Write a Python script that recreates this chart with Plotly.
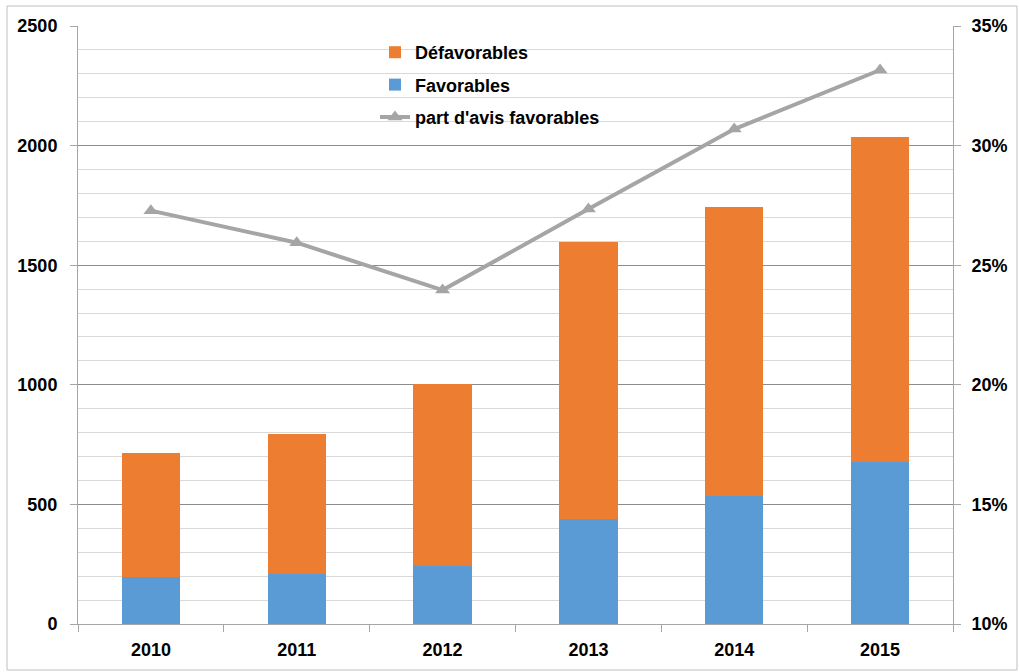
import plotly.graph_objects as go

years = ["2010", "2011", "2012", "2013", "2014", "2015"]
favorables = [198, 209, 244, 437, 536, 676]
defavorables = [517, 585, 759, 1158, 1207, 1360]
part_favorables = [0.2728, 0.2594, 0.2396, 0.2735, 0.3069, 0.3316]

left_ticks = [0, 500, 1000, 1500, 2000, 2500]
right_ticks = [0.10, 0.15, 0.20, 0.25, 0.30, 0.35]
right_labels = ["10%", "15%", "20%", "25%", "30%", "35%"]

W, H = 1019, 672
L, R, T, B = 78, 66, 26, 48
pw, ph = W - L - R, H - T - B

FAM = "Liberation Sans, Arial, sans-serif"

fig = go.Figure()
fig.add_trace(go.Bar(x=years, y=favorables, name="Favorables", marker_color="#5B9BD5",
                     marker_line_width=0, legendrank=2, legendgroup="b"))
fig.add_trace(go.Bar(x=years, y=defavorables, name="Défavorables", marker_color="#ED7D31",
                     marker_line_width=0, legendrank=1, legendgroup="a"))
fig.add_trace(go.Scatter(x=years, y=part_favorables, name="part d'avis favorables", yaxis="y2",
                         mode="lines+markers", line=dict(color="#A5A5A5", width=4),
                         marker=dict(symbol="triangle-up", size=13, color="#A5A5A5"),
                         legendrank=3, legendgroup="c"))

fig.update_layout(
    width=W, height=H,
    margin=dict(l=L, r=R, t=T, b=B, autoexpand=False),
    paper_bgcolor="white", plot_bgcolor="white",
    barmode="stack", bargap=0.6,
    font=dict(family=FAM, size=18, color="black"),
    showlegend=True,
    legend=dict(x=(375 - L) / pw, y=1 - (34 - T) / ph, xanchor="left", yanchor="top",
                bgcolor="rgba(0,0,0,0)", traceorder="grouped", tracegroupgap=6,
                font=dict(family=FAM, size=18, color="black", weight="bold"),
                itemwidth=30),
    xaxis=dict(type="category", showgrid=False, showline=True, linecolor="#A6A6A6", linewidth=1,
               ticks="outside", tickson="boundaries", ticklen=7, tickcolor="#A6A6A6",
               tickfont=dict(family=FAM, size=18, weight="bold"),
               ticklabelstandoff=9, zeroline=False, automargin=False),
    yaxis=dict(range=[0, 2500], tickvals=left_ticks, ticktext=[str(v) for v in left_ticks],
               showline=True, linecolor="#A6A6A6", linewidth=1,
               showgrid=True, gridcolor="#8C8C8C", gridwidth=1,
               minor=dict(dtick=100, showgrid=True, gridcolor="#D9D9D9", gridwidth=1),
               ticks="outside", ticklen=7, tickcolor="#A6A6A6",
               tickfont=dict(family=FAM, size=18, weight="bold"),
               ticklabelstandoff=9, zeroline=False, automargin=False),
    yaxis2=dict(range=[0.10, 0.35], overlaying="y", side="right", tickvals=right_ticks,
                ticktext=right_labels, showgrid=False, showline=True, linecolor="#A6A6A6",
                linewidth=1, ticks="outside", ticklen=7, tickcolor="#A6A6A6",
                tickfont=dict(family=FAM, size=18, weight="bold"),
                ticklabelstandoff=7, zeroline=False, automargin=False),
)

fig.add_shape(type="rect", xref="paper", yref="paper",
              x0=(7 - L) / pw, x1=(1017 - L) / pw, y0=(H - B - 670) / ph, y1=(H - B - 6) / ph,
              line=dict(color="#BFBFBF", width=1), fillcolor="rgba(0,0,0,0)", layer="below")

fig.write_html("out.html", config={"displayModeBar": False},
               post_script="document.body.style.margin='0';document.body.style.overflow='hidden';")
